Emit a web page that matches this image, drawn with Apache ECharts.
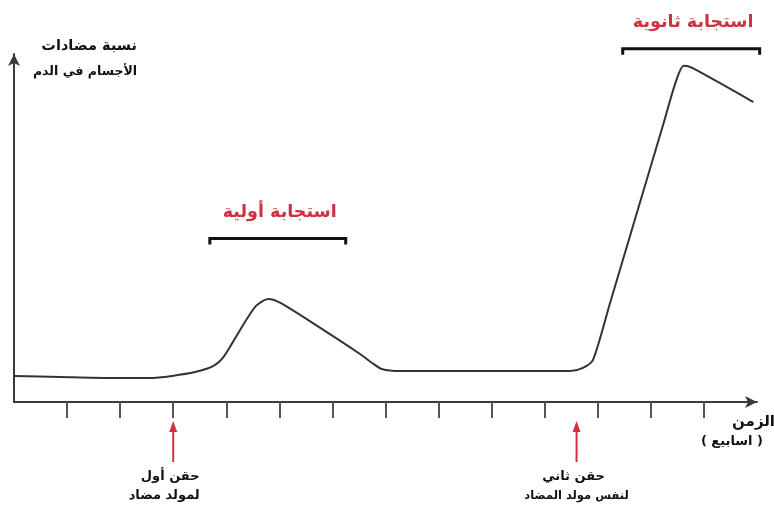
<!DOCTYPE html>
<html><head><meta charset="utf-8">
<script src="https://cdn.jsdelivr.net/npm/echarts@6/dist/echarts.min.js"></script>
<style>html,body{margin:0;padding:0;background:#fff}#c{width:774px;height:513px}</style>
</head><body><div id="c"></div>
<script>
// Time in weeks
const weeks = [0, 0.87, 1.81, 2.56, 2.98, 3.41, 3.75, 3.96, 4.26, 4.56, 4.79, 5.03, 5.77, 6.52, 6.75, 6.93, 7.27, 9.16, 10.48, 10.72, 10.91, 11.23, 12.23, 12.47, 12.62, 12.78, 13.93];
// Antibody concentration in blood (relative units)
const antibody = [7.5, 7.2, 6.9, 6.9, 7.5, 8.6, 10.3, 13.2, 20.7, 27.6, 29.6, 28.4, 21.3, 13.8, 11.2, 9.5, 8.9, 8.9, 8.9, 9.8, 12.1, 28.4, 79.6, 92.0, 96.6, 96.0, 86.2];
const tickWeeks = [1,2,3,4,5,6,7,8,9,10,11,12,13];
const injections = [
  {week: 3, lines: ['حقن أول', 'لمولد مضاد']},
  {week: 10.6, lines: ['حقن ثاني', 'لنفس مولد المضاد']}
];
const responses = [
  {from: 3.69, to: 6.25, level: 47, label: 'استجابة أولية'},
  {from: 11.47, to: 14.05, level: 101.5, label: 'استجابة ثانوية'}
];
const yTitle = ['نسبة مضادات', 'الأجسام في الدم'];
const xTitle = ['الزمن', '( اسابيع )'];

const FONT = '"DejaVu Sans", "Noto Sans", sans-serif';
const chart = echarts.init(document.getElementById('c'), null, {renderer: 'canvas'});
chart.setOption({
  animation: false,
  grid: {left: 14, right: 17, top: 54, bottom: 111, containLabel: false},
  xAxis: {
    type: 'value', min: 0, max: 14,
    axisLine: {show: true, onZero: false, symbol: ['none', 'arrow'], symbolSize: [9, 12], lineStyle: {color: '#3a3a3a', width: 2}},
    axisTick: {show: true, customValues: tickWeeks, length: 16, lineStyle: {color: '#555', width: 2}},
    axisLabel: {show: false},
    splitLine: {show: false}
  },
  yAxis: {
    type: 'value', min: 0, max: 100,
    axisLine: {show: true, symbol: ['none', 'arrow'], symbolSize: [9, 12], lineStyle: {color: '#3a3a3a', width: 2}},
    axisTick: {show: false},
    axisLabel: {show: false},
    splitLine: {show: false}
  },
  series: [{
    type: 'line',
    data: weeks.map((w, i) => [w, antibody[i]]),
    smooth: 0.25,
    showSymbol: false,
    lineStyle: {color: '#333', width: 2}
  }]
});

function px(x, y) { return chart.convertToPixel({gridIndex: 0}, [x, y]); }
const graphics = [];
const RED = '#d1303f';
// y axis title
graphics.push({type: 'text', style: {text: yTitle[0], x: 137, y: 46, align: 'right', verticalAlign: 'middle', font: 'bold 14.5px ' + FONT, fill: '#111'}});
graphics.push({type: 'text', style: {text: yTitle[1], x: 137, y: 72, align: 'right', verticalAlign: 'middle', font: 'bold 12.5px ' + FONT, fill: '#111'}});
// x axis title
graphics.push({type: 'text', style: {text: xTitle[0], x: 775, y: 422, align: 'right', verticalAlign: 'middle', font: 'bold 15px ' + FONT, fill: '#111'}});
graphics.push({type: 'text', style: {text: xTitle[1], x: 763, y: 442, align: 'right', verticalAlign: 'middle', font: 'bold 13px ' + FONT, fill: '#111'}});
// injections
injections.forEach((inj, i) => {
  const p = px(inj.week, 0);
  const cx = p[0];
  const base = p[1];
  graphics.push({type: 'line', shape: {x1: cx, y1: base + 28, x2: cx, y2: base + 60}, style: {stroke: RED, lineWidth: 2}});
  graphics.push({type: 'polygon', shape: {points: [[cx, base + 19], [cx - 4, base + 30], [cx + 4, base + 30]]}, style: {fill: RED}});
  graphics.push({type: 'text', style: {text: inj.lines[0], x: cx - 3, y: base + 75, align: 'center', verticalAlign: 'middle', font: 'bold 13px ' + FONT, fill: '#111'}});
  graphics.push({type: 'text', style: {text: inj.lines[1], x: cx + (i === 0 ? -9 : 0), y: base + 94, align: 'center', verticalAlign: 'middle', font: (i === 0 ? 'bold 13px ' : 'bold 11.5px ') + FONT, fill: '#111'}});
});
// response brackets
responses.forEach(r => {
  const a = px(r.from, r.level), b = px(r.to, r.level);
  graphics.push({type: 'polyline', shape: {points: [[a[0], a[1] + 6], [a[0], a[1]], [b[0], b[1]], [b[0], b[1] + 6]]}, style: {stroke: '#111', lineWidth: 3, fill: null}});
  graphics.push({type: 'text', style: {text: r.label, x: (a[0] + b[0]) / 2 + 2, y: a[1] - 26, align: 'center', verticalAlign: 'middle', font: 'bold 17.5px ' + FONT, fill: RED}});
});
chart.setOption({graphic: graphics});
</script></body></html>
